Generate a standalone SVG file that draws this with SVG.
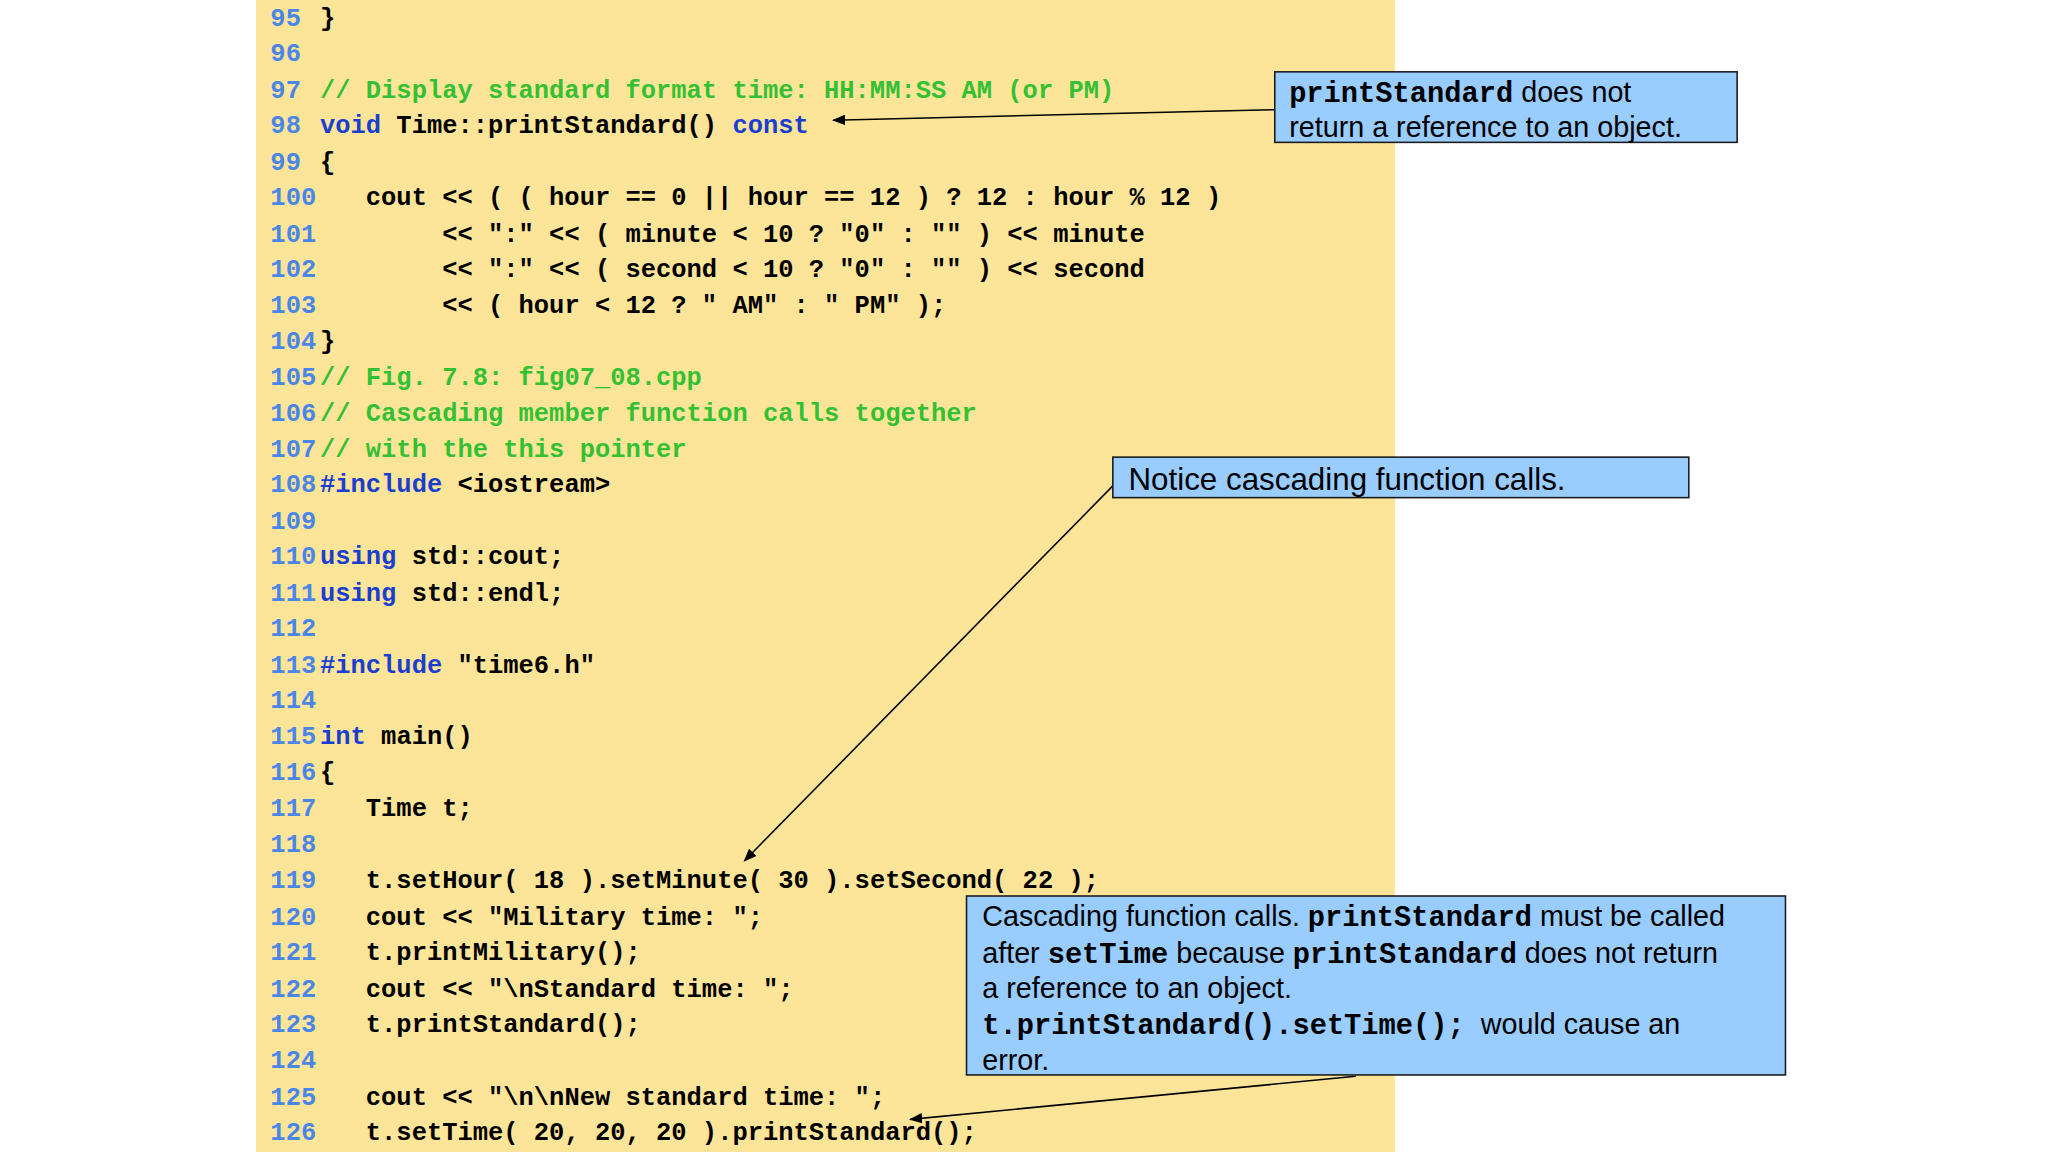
<svg xmlns="http://www.w3.org/2000/svg" width="2048" height="1152" viewBox="0 0 2048 1152">
<defs>
<style>
.c{font-family:"Liberation Mono",monospace;font-weight:bold;font-size:19.5px;fill:#000;white-space:pre}
.n{fill:#4a86e8}
.k{fill:#1a3fd0}
.g{fill:#33c033}
.s{font-family:"Liberation Sans",Arial,sans-serif;font-size:22px;fill:#000;white-space:pre}
.m{font-family:"Liberation Mono",monospace;font-weight:bold;font-size:22px}
.box{fill:#99ccff;stroke:#1a1a1a;stroke-width:1.2}
.ln{stroke:#000;stroke-width:1.2;fill:none;marker-end:url(#ah)}
</style>
<marker id="ah" markerWidth="10" markerHeight="8" refX="9" refY="4" orient="auto" markerUnits="userSpaceOnUse"><path d="M0,0 L10,4 L0,8 z" fill="#000"/></marker>
</defs>
<rect width="2048" height="1152" fill="#fff"/>
<g transform="scale(1.306122)">
<g id="code">
<rect x="196" y="0" width="872" height="882" fill="#fce598"/>
<text class="c" xml:space="preserve"><tspan class="n" x="207" y="20">95</tspan><tspan x="245" y="20">}</tspan>
<tspan class="n" x="207" y="47">96</tspan>
<tspan class="n" x="207" y="75">97</tspan><tspan class="g" x="245" y="75">// Display standard format time: HH:MM:SS AM (or PM)</tspan>
<tspan class="n" x="207" y="102">98</tspan><tspan class="k" x="245" y="102">void</tspan><tspan> Time::printStandard() </tspan><tspan class="k">const</tspan>
<tspan class="n" x="207" y="130">99</tspan><tspan x="245" y="130">{</tspan>
<tspan class="n" x="207" y="157">100</tspan><tspan x="245" y="157">   cout &lt;&lt; ( ( hour == 0 || hour == 12 ) ? 12 : hour % 12 )</tspan>
<tspan class="n" x="207" y="185">101</tspan><tspan x="245" y="185">        &lt;&lt; ":" &lt;&lt; ( minute &lt; 10 ? "0" : "" ) &lt;&lt; minute</tspan>
<tspan class="n" x="207" y="212">102</tspan><tspan x="245" y="212">        &lt;&lt; ":" &lt;&lt; ( second &lt; 10 ? "0" : "" ) &lt;&lt; second</tspan>
<tspan class="n" x="207" y="240">103</tspan><tspan x="245" y="240">        &lt;&lt; ( hour &lt; 12 ? " AM" : " PM" );</tspan>
<tspan class="n" x="207" y="267">104</tspan><tspan x="245" y="267">}</tspan>
<tspan class="n" x="207" y="295">105</tspan><tspan class="g" x="245" y="295">// Fig. 7.8: fig07_08.cpp</tspan>
<tspan class="n" x="207" y="322">106</tspan><tspan class="g" x="245" y="322">// Cascading member function calls together</tspan>
<tspan class="n" x="207" y="350">107</tspan><tspan class="g" x="245" y="350">// with the this pointer</tspan>
<tspan class="n" x="207" y="377">108</tspan><tspan class="k" x="245" y="377">#include</tspan><tspan> &lt;iostream&gt;</tspan>
<tspan class="n" x="207" y="405">109</tspan>
<tspan class="n" x="207" y="432">110</tspan><tspan class="k" x="245" y="432">using</tspan><tspan> std::cout;</tspan>
<tspan class="n" x="207" y="460">111</tspan><tspan class="k" x="245" y="460">using</tspan><tspan> std::endl;</tspan>
<tspan class="n" x="207" y="487">112</tspan>
<tspan class="n" x="207" y="515">113</tspan><tspan class="k" x="245" y="515">#include</tspan><tspan> "time6.h"</tspan>
<tspan class="n" x="207" y="542">114</tspan>
<tspan class="n" x="207" y="570">115</tspan><tspan class="k" x="245" y="570">int</tspan><tspan> main()</tspan>
<tspan class="n" x="207" y="597">116</tspan><tspan x="245" y="597">{</tspan>
<tspan class="n" x="207" y="625">117</tspan><tspan x="245" y="625">   Time t;</tspan>
<tspan class="n" x="207" y="652">118</tspan>
<tspan class="n" x="207" y="680">119</tspan><tspan x="245" y="680">   t.setHour( 18 ).setMinute( 30 ).setSecond( 22 );</tspan>
<tspan class="n" x="207" y="708">120</tspan><tspan x="245" y="708">   cout &lt;&lt; "Military time: ";</tspan>
<tspan class="n" x="207" y="735">121</tspan><tspan x="245" y="735">   t.printMilitary();</tspan>
<tspan class="n" x="207" y="763">122</tspan><tspan x="245" y="763">   cout &lt;&lt; "\nStandard time: ";</tspan>
<tspan class="n" x="207" y="790">123</tspan><tspan x="245" y="790">   t.printStandard();</tspan>
<tspan class="n" x="207" y="818">124</tspan>
<tspan class="n" x="207" y="846">125</tspan><tspan x="245" y="846">   cout &lt;&lt; "\n\nNew standard time: ";</tspan>
<tspan class="n" x="207" y="873">126</tspan><tspan x="245" y="873">   t.setTime( 20, 20, 20 ).printStandard();</tspan></text>
</g>
<g id="connectors">
<path class="ln" d="M976,84 L638,92"/>
<path class="ln" d="M852,372 L570,659"/>
<path class="ln" d="M1038,824 L697,857"/>
</g>
<g id="note1">
<rect class="box" x="976" y="55" width="354" height="54"/>
<text class="s" x="987" y="78"><tspan class="m">printStandard</tspan> does not</text>
<text class="s" x="987" y="105">return a reference to an object.</text>
</g>
<g id="note2">
<rect class="box" x="852" y="350" width="441" height="31"/>
<text class="s" x="864" y="375" style="font-size:24px">Notice cascading function calls.</text>
</g>
<g id="note3">
<rect class="box" x="740" y="686" width="627" height="137"/>
<text class="s" x="752" y="709">Cascading function calls. <tspan class="m">printStandard</tspan> must be called</text>
<text class="s" x="752" y="737">after <tspan class="m">setTime</tspan> because <tspan class="m">printStandard</tspan> does not return</text>
<text class="s" x="752" y="764">a reference to an object.</text>
<text class="s" x="752" y="792"><tspan class="m">t.printStandard().setTime();</tspan>  would cause an</text>
<text class="s" x="752" y="819">error.</text>
</g>
</g>
</svg>
